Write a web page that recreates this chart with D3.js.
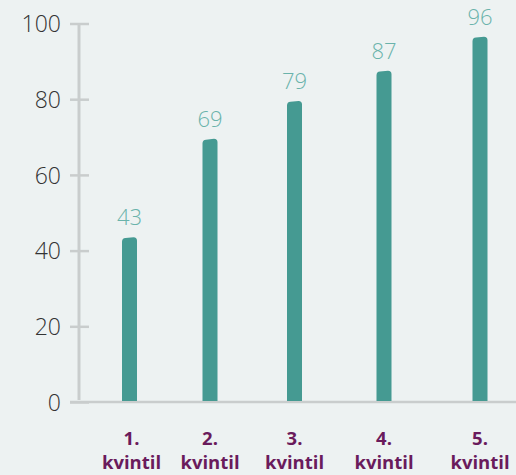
<html>
<head>
<script src="https://d3js.org/d3.v7.min.js"></script>
<style>
  body { margin: 0; background: #edf2f2; }
  svg { display: block; }
  .ytick text { font-family: "Open Sans", Lato, sans-serif; font-weight: 300; font-size: 23px; fill: #333; }
  .val { font-family: "Open Sans", Lato, sans-serif; font-weight: 300; font-size: 22px; fill: #6ab3ab; text-anchor: middle; }
  .cat { font-family: "Open Sans", sans-serif; font-weight: 700; font-size: 18.5px; fill: #6a1b5c; text-anchor: middle; }
</style>
</head>
<body>
<svg width="516" height="475"></svg>
<script>
var categories = ["1. kvintil", "2. kvintil", "3. kvintil", "4. kvintil", "5. kvintil"];
var values = [43, 69, 79, 87, 96];
var yTicks = [0, 20, 40, 60, 80, 100];

var svg = d3.select("svg");
var axisX = 79, baseY = 402, topY = 23.5;

var y = d3.scaleLinear().domain([0, 100]).range([baseY, topY]);
// bar centres are spaced a little wider toward the right in the original
var x = d3.scaleOrdinal().domain(categories).range([129.5, 210, 294.5, 384, 480]);
var barW = 15;

// y axis
var yAxis = svg.append("g")
  .attr("transform", "translate(" + axisX + ",0)")
  .call(d3.axisLeft(y).tickValues(yTicks).tickSize(9).tickPadding(9));
yAxis.select(".domain").remove();
yAxis.selectAll(".tick").attr("class", "tick ytick");
yAxis.selectAll(".tick line")
  .attr("x1", -9).attr("x2", 10)
  .attr("stroke", "#c9cdcd").attr("stroke-width", 2.5);
yAxis.selectAll(".tick text").attr("dy", "0.36em");
yAxis.append("line")
  .attr("x1", 0).attr("x2", 0)
  .attr("y1", y(100)).attr("y2", y(0) - 2)
  .attr("stroke", "#c9cdcd").attr("stroke-width", 3);

// baseline
svg.append("line")
  .attr("x1", axisX - 9).attr("x2", 516)
  .attr("y1", baseY).attr("y2", baseY)
  .attr("stroke", "#c9cdcd").attr("stroke-width", 2.5);

// bars with rounded tops
svg.selectAll("path.bar")
  .data(values)
  .enter().append("path")
  .attr("class", "bar")
  .attr("fill", "#459a92")
  .attr("d", function (d, i) {
    var cx = x(categories[i]);
    var x0 = cx - barW / 2, x1 = cx + barW / 2;
    var t = y(d) - 2, r = 3.5;
    return "M" + x0 + "," + (baseY - 1) +
      "L" + x0 + "," + (t + r + 1) +
      "Q" + x0 + "," + (t + 1) + " " + (x0 + r) + "," + (t + 0.8) +
      "L" + (x1 - r) + "," + t +
      "Q" + x1 + "," + t + " " + x1 + "," + (t + r) +
      "L" + x1 + "," + (baseY - 1) + "Z";
  });

// value labels
svg.selectAll("text.val")
  .data(values)
  .enter().append("text")
  .attr("class", "val")
  .attr("x", function (d, i) { return x(categories[i]); })
  .attr("y", function (d) { return y(d) - 14; })
  .text(function (d) { return d; });

// category labels (two lines)
var cat = svg.selectAll("text.cat")
  .data(categories)
  .enter().append("text")
  .attr("class", "cat")
  .attr("x", function (d) { return x(d) + (d[0] === "1" ? 2 : 0); })
  .attr("y", 445);
cat.append("tspan")
  .attr("x", function (d) { return x(d) + (d[0] === "1" ? 2 : 0); })
  .text(function (d) { return d.split(" ")[0]; });
cat.append("tspan")
  .attr("x", function (d) { return x(d) + (d[0] === "1" ? 2 : 0); })
  .attr("dy", 24)
  .text(function (d) { return d.split(" ")[1]; });
</script>
</body>
</html>
